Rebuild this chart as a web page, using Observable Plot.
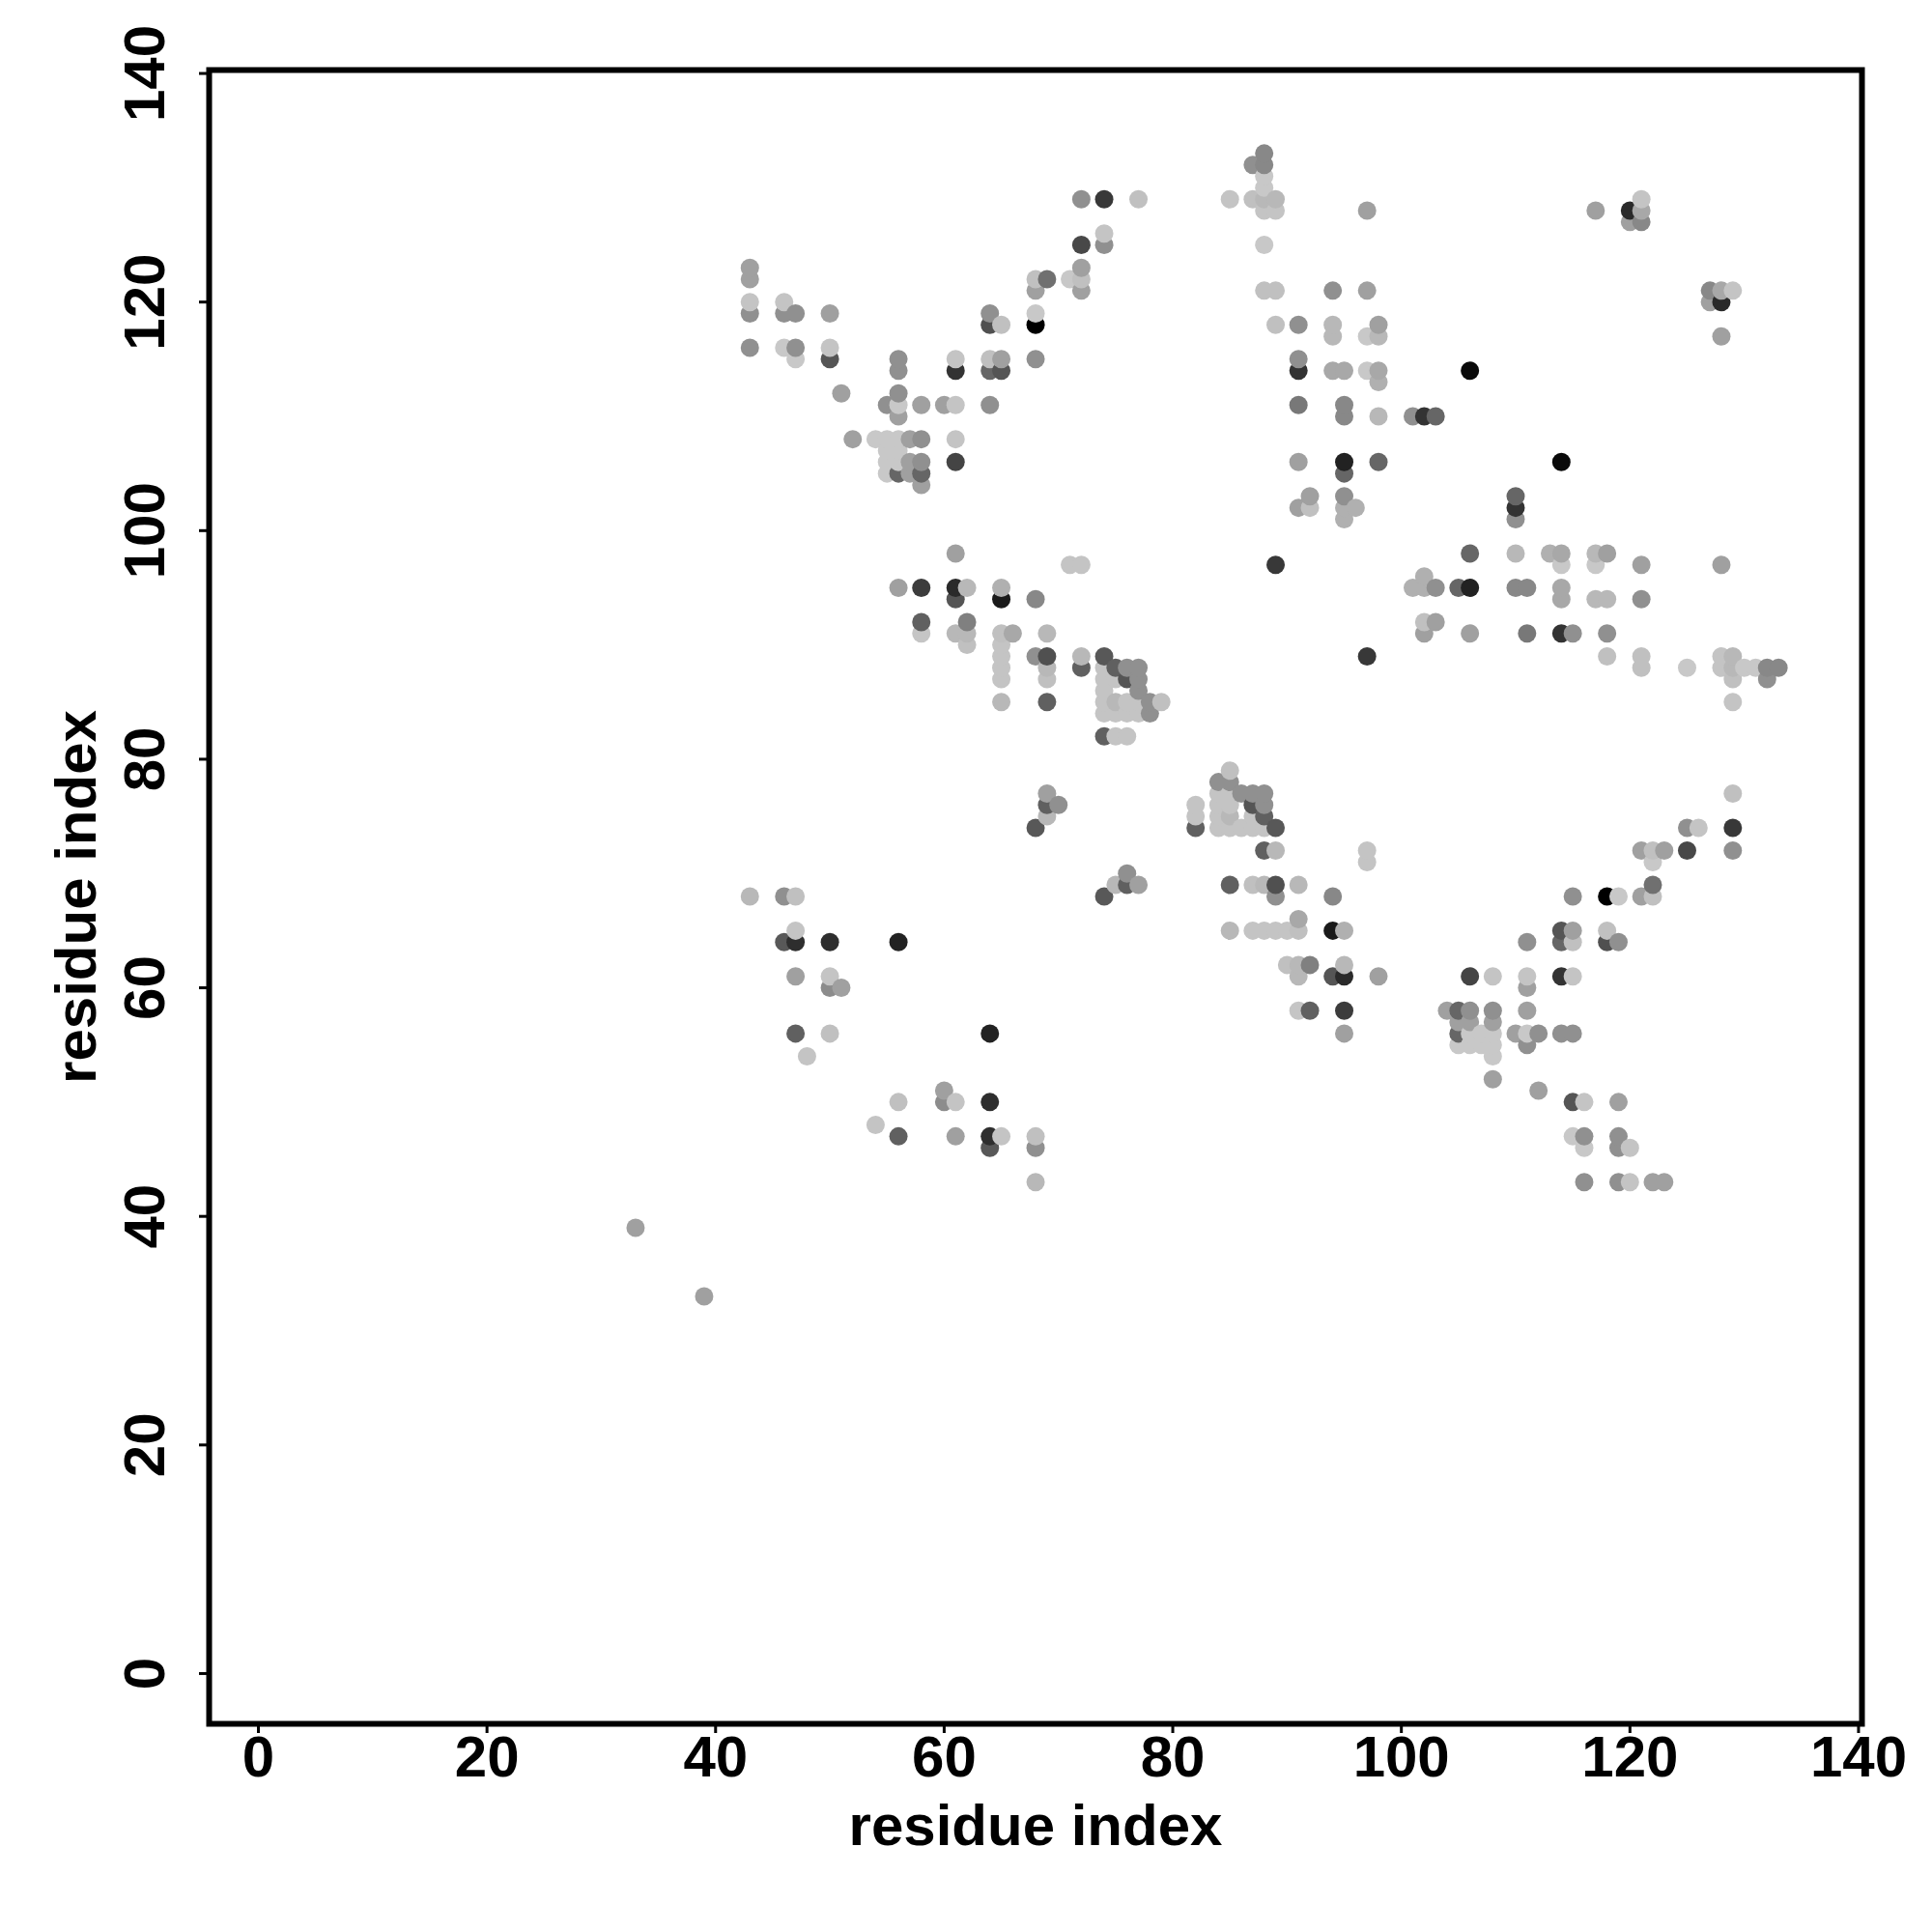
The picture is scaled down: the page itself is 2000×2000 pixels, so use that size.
<!DOCTYPE html>
<html>
<head>
<meta charset="utf-8">
<style>html,body{margin:0;padding:0;background:#fff}</style>
<script src="https://cdn.jsdelivr.net/npm/d3@7"></script>
<script src="https://cdn.jsdelivr.net/npm/@observablehq/plot@0.6"></script>
</head>
<body>
<script>
// Symmetric contact map: one residue, its partners (higher index), and each contact's grey level 0-255.
const residues = [33,43,46,47,48,50,51,52,54,55,56,57,58,60,61,62,64,65,66,68,69,70,71,72,74,75,76,77,78,79,85,87,88,89,91,92,94,95,96,97,98,101,102,103,106,117,120,121];
const partners = [
[39],
[68,116,119,120,122,123],
[64,68,116,119,120],
[56,61,64,65,68,115,116,119],
[54],
[56,60,61,64,115,116,119],
[60,112],
[108],
[108],
[105,106,107,108,111],
[64,95,105,106,107,108,110,111,112,114,115],
[105,106,108],
[91,92,95,104,105,106,108,111],
[111],
[91,94,95,98,106,108,111,114,115],
[90,91,92,95],
[111,114,115,118,119],
[85,87,88,89,90,91,94,95,114,115,118],
[91],
[74,89,94,115,118,119,121,122],
[75,76,77,85,87,88,89,91,122],
[76],
[97,122],
[88,89,97,121,122,123,125,129],
[82,84,85,86,87,88,89,125,126,129],
[82,84,85,87,88],
[82,84,85,87,88],
[84,85,86,87,88,129],
[84,85],
[85],
[129],
[129,132],
[121,125,128,129,130,131,132,133],
[97,118,121,128,129],
[102,106,111,114,115,118],
[102,103],
[114,117,118,121],
[101,102,103,105,106,110,111,114],
[102],
[114,117,121,128],
[106,110,113,114,117,118],
[110],
[110],
[110],
[114],
[128],
[127,128],
[127,128,129]
];
const shades = [
[160],
[184,144,144,196,160,160],
[88,144,200,144,196],
[96,160,46,196,192,200,144,144],
[196],
[192,140,196,46,85,196,160],
[160,160],
[160],
[200],
[200,200,200,200,144],
[34,160,102,200,200,200,160,200,144,144,144],
[160,160,160],
[197,96,60,160,102,144,144,160],
[160],
[184,85,42,160,68,196,196,51,196],
[192,184,128,184],
[144,102,192,80,144],
[184,196,196,196,196,192,26,176,85,160,192],
[168],
[88,144,136,144,0,200,160,192],
[184,96,160,96,192,184,80,184,112],
[144],
[196,200],
[96,184,196,160,192,160,72,144],
[96,196,196,196,196,196,88,144,196,56],
[196,196,184,196,96],
[196,196,196,85,144],
[196,196,144,144,144,192],
[144,144],
[192],
[196],
[192,144],
[192,200,196,184,200,200,136,136],
[56,192,192,196,184],
[160,160,120,51,144,144],
[192,160],
[168,184,184,144],
[176,176,144,102,34,136,136,168],
[176],
[200,200,160,160],
[102,184,176,168,184,160],
[144],
[51],
[102],
[10],
[160],
[160,42],
[136,168,196]
];
const tickValues = [0,20,40,60,80,100,120,140];
const axisTitle = "residue index";

const contacts = [];
residues.forEach((a, k) => partners[k].forEach((b, m) => {
  contacts.push({x: a, y: b, shade: shades[k][m]});
  contacts.push({x: b, y: a, shade: shades[k][m]});
}));
contacts.sort((p, q) => p.x - q.x || p.y - q.y);

const font = "'Liberation Sans', Arial, sans-serif";
const chart = Plot.plot({
  width: 2000, height: 2000,
  marginLeft: 216, marginRight: 73, marginTop: 72, marginBottom: 216,
  style: {fontFamily: font, fontWeight: "bold", background: "#fff", color: "#000"},
  x: {domain: [-4.31, 140.3]},
  y: {domain: [-4.4, 140.3]},
  color: {type: "linear", domain: [0, 255], range: ["#000000", "#ffffff"]},
  marks: [
    Plot.dot(contacts, {x: "x", y: "y", fill: "shade", r: 9.5, stroke: "none"}),
    Plot.frame({stroke: "#000", strokeWidth: 6}),
    Plot.axisX({ticks: tickValues, tickSize: 10, tickPadding: 2, strokeWidth: 3, fontSize: 60,
      tickFormat: d => String(d), label: axisTitle, labelAnchor: "center", labelArrow: "none", labelOffset: 125}),
    Plot.axisY({ticks: tickValues, tickSize: 10, tickPadding: 37, strokeWidth: 3, fontSize: 60, textAnchor: "middle", tickRotate: -90,
      tickFormat: d => String(d), label: axisTitle, labelAnchor: "center", labelArrow: "none", labelOffset: 160})
  ]
});
document.body.appendChild(chart);
</script>
</body>
</html>
